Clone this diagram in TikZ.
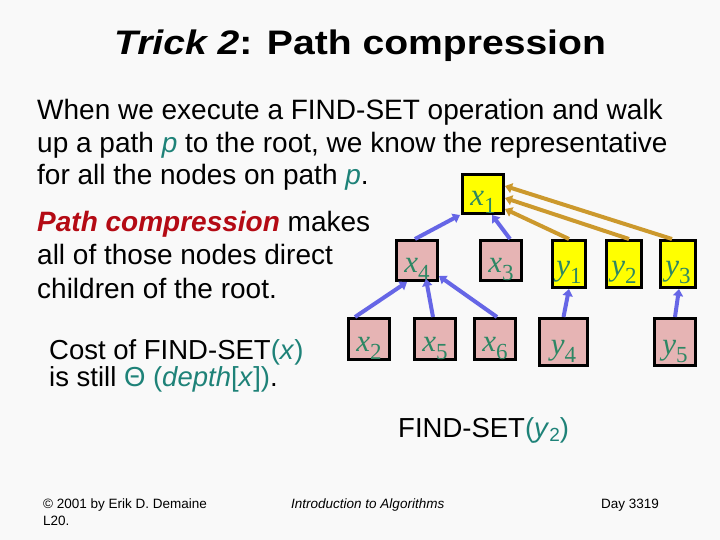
\documentclass[tikz,border=0pt]{standalone}
\usepackage{fontspec}
\setmainfont{Liberation Sans}
\newfontfamily\tms{Liberation Serif}
\usetikzlibrary{arrows.meta}
\definecolor{bg}{RGB}{249,249,249}
\definecolor{pinkfill}{RGB}{230,180,180}
\definecolor{yelfill}{RGB}{255,255,0}
\definecolor{lblcol}{RGB}{45,135,100}
\definecolor{tealc}{RGB}{30,130,120}
\definecolor{redc}{RGB}{180,10,20}
\definecolor{bluec}{RGB}{102,102,230}
\definecolor{goldc}{RGB}{204,153,45}
\newcommand\vl[2]{{\tms\fontsize{31bp}{31bp}\selectfont\itshape #1\/}\raisebox{-8bp}{\tms\fontsize{23bp}{23bp}\selectfont #2}}
\tikzset{
  tbox/.style={draw=black, line width=3bp, inner sep=0pt, text height=24bp, text depth=0pt, text=lblcol},
  pinkbox/.style={tbox, fill=pinkfill},
  yelbox/.style={tbox, fill=yelfill},
  bluearr/.style={draw=bluec, line width=4bp, -{Triangle[length=7bp,width=10bp]}},
  goldarr/.style={draw=goldc, line width=4bp, -{Triangle[length=7bp,width=10bp]}},
  bodytxt/.style={anchor=base west, inner sep=0pt, font=\fontsize{28bp}{33bp}\selectfont},
  smalltxt/.style={anchor=base west, inner sep=0pt, font=\fontsize{27.5bp}{27bp}\selectfont},
  foot/.style={anchor=base west, inner sep=0pt, font=\fontsize{13.5bp}{16bp}\selectfont}
}
\begin{document}
\begin{tikzpicture}[x=1bp,y=-1bp]
\fill[bg] (0,0) rectangle (720,540);
\useasboundingbox (0,0) rectangle (720,540);

% title
\node[anchor=base, inner sep=0pt, font=\fontsize{34bp}{40bp}\selectfont\bfseries] (title) at (360,55) {\scalebox{1.15}[1]{\textit{Trick 2}: Path compression}};

% body text
\node[bodytxt] (l1) at (37,120) {When we execute a FIND-SET operation and walk};
\node[bodytxt] (l2) at (37,152.5) {up a path \textcolor{tealc}{\textit{p}} to the root, we know the representative};
\node[bodytxt] (l3) at (37,185) {for all the nodes on path \textcolor{tealc}{\textit{p}}.};

\node[bodytxt] (m1) at (37,232) {\textcolor{redc}{\textbf{\textit{Path compression}}} makes};
\node[bodytxt] (m2) at (37,265) {all of those nodes direct};
\node[bodytxt] (m3) at (37,298) {children of the root.};

\node[smalltxt] (c1) at (49,359) {Cost of FIND-SET\textcolor{tealc}{(\textit{x})}};
\node[smalltxt] (c2) at (49,386) {is still \textcolor{tealc}{Θ (\textit{depth}[\textit{x}])}.};

\node[smalltxt] (fs) at (398,437) {FIND-SET\textcolor{tealc}{(\textit{y}\raisebox{-4bp}{\fontsize{19bp}{19bp}\selectfont 2})}};

% footer
\node[foot] (f1) at (43,508) {\textcopyright{} 2001 by Erik D. Demaine};
\node[foot] (f2) at (43,525) {L20.};
\node[foot] (f3) at (291,508) {\textit{Introduction to Algorithms}};
\node[foot] (f4) at (601,508) {Day 3319};

% tree nodes
\node[yelbox, minimum width=41bp, minimum height=39bp] (x1) at (483,194) {\vl{x}{1}};
\node[pinkbox, minimum width=41bp, minimum height=40bp] (x4) at (417,260.5) {\vl{x}{4}};
\node[pinkbox, minimum width=41bp, minimum height=40bp] (x3) at (501,260.5) {\vl{x}{3}};
\node[yelbox, minimum width=33bp, minimum height=47bp] (y1) at (569,264) {\vl{y}{1}};
\node[yelbox, minimum width=35bp, minimum height=47bp] (y2) at (624,264) {\vl{y}{2}};
\node[yelbox, minimum width=35bp, minimum height=47bp] (y3) at (678,264) {\vl{y}{3}};
\node[pinkbox, minimum width=41bp, minimum height=41bp] (x2) at (369,339) {\vl{x}{2}};
\node[pinkbox, minimum width=41bp, minimum height=41bp] (x5) at (435,339) {\vl{x}{5}};
\node[pinkbox, minimum width=41bp, minimum height=41bp] (x6) at (495,339) {\vl{x}{6}};
\node[pinkbox, minimum width=48bp, minimum height=47bp] (y4) at (563.5,342) {\vl{y}{4}};
\node[pinkbox, minimum width=41bp, minimum height=47bp] (y5) at (675,342) {\vl{y}{5}};

% blue edges
\draw[bluearr] ([xshift=-2bp]x4.north) -- ([xshift=-1bp]x1.south west);
\draw[bluearr] ([xshift=9bp]x3.north) -- ([xshift=9bp]x1.south);
\draw[bluearr] ([xshift=8bp]x2.north west) -- ([xshift=-10bp]x4.south);
\draw[bluearr] ([xshift=-2bp]x5.north) -- ([xshift=9bp,yshift=3bp]x4.south);
\draw[bluearr] ([xshift=2bp]x6.north) -- ([yshift=6bp]x4.south east);
\draw[bluearr] (y4.north) -- (y1.south);
\draw[bluearr] (y5.north) -- ([xshift=1bp]y3.south);

% gold edges
\draw[goldarr] (y1.north) -- ([yshift=-15bp]x1.east);
\draw[goldarr] ([xshift=5bp]y2.north) -- ([yshift=-4bp]x1.east);
\draw[goldarr] ([xshift=-6bp]y3.north) -- ([yshift=8bp]x1.east);
\end{tikzpicture}
\end{document}
